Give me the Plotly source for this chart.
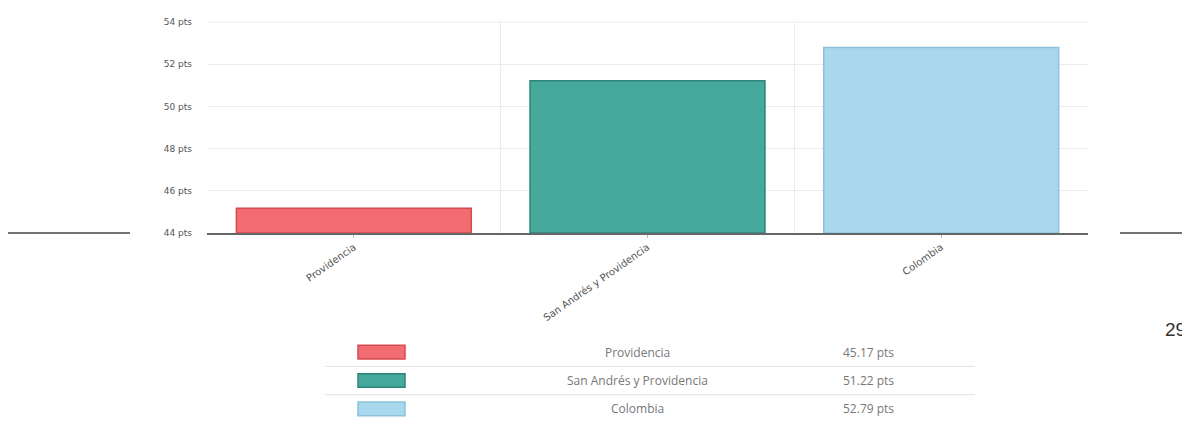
import plotly.graph_objects as go

categories = ["Providencia", "San Andrés y Providencia", "Colombia"]
values = [45.17, 51.22, 52.79]
value_labels = ["45.17 pts", "51.22 pts", "52.79 pts"]
fill_colors = ["#F36C72", "#45A99B", "#A9D8EE"]
line_colors = ["#D84A52", "#2E8579", "#8BC3DC"]
y_ticks = [44, 46, 48, 50, 52, 54]
y_ticktext = [f"{v} pts" for v in y_ticks]

# the page body has an 8px margin; compensate so the picture lands where intended
OFF = 8
W, H = 1190 - OFF, 430 - OFF
# plot-area pixel geometry in window coordinates
L, R, T, B = 207, 1088, 17, 233


def px(x):
    return (x - L) / (R - L)


def py(y):
    return (B - y) / (B - T)


fig = go.Figure()
fig.add_trace(go.Bar(
    x=list(range(len(categories))),
    y=[v - y_ticks[0] for v in values],
    base=y_ticks[0],
    marker=dict(color=fill_colors, line=dict(color=line_colors, width=1.5)),
    width=0.8,
    hoverinfo="skip",
    showlegend=False,
))

fig.update_layout(
    width=W, height=H,
    margin=dict(l=L - OFF, r=1190 - R, t=T - OFF, b=430 - B),
    paper_bgcolor="white",
    plot_bgcolor="white",
    font=dict(family="DejaVu Sans, sans-serif", color="#555"),
    xaxis=dict(
        range=[-0.5, len(categories) - 0.5],
        tickvals=list(range(len(categories))),
        ticktext=categories,
        tickangle=-35,
        tickfont=dict(size=10, color="#555", family="DejaVu Sans, sans-serif"),
        showgrid=False,
        showline=True, linecolor="#666", linewidth=1.5,
        ticks="outside", ticklen=3, tickcolor="#bbb",
        minor=dict(tick0=0.5, dtick=1, showgrid=True, gridcolor="#ebebeb", gridwidth=1),
        zeroline=False,
        fixedrange=True,
    ),
    yaxis=dict(
        range=[y_ticks[0], y_ticks[-1]],
        tickvals=y_ticks,
        ticktext=y_ticktext,
        tickfont=dict(size=9, color="#555", family="DejaVu Sans, sans-serif"),
        showgrid=True, gridcolor="#ebebeb", gridwidth=1,
        zeroline=False,
        ticklabelstandoff=14,
        fixedrange=True,
    ),
)

shapes = []
annotations = []

shapes.append(dict(type="line", xref="paper", yref="paper", x0=0, x1=1, y0=1, y1=1,
                   line=dict(color="#ebebeb", width=1)))

# page decoration lines left and right of the axis
shapes.append(dict(type="line", xref="paper", yref="paper", x0=px(OFF), x1=px(130), y0=0, y1=0,
                   line=dict(color="#444", width=1.5)))
shapes.append(dict(type="line", xref="paper", yref="paper", x0=px(1120), x1=px(1192), y0=0, y1=0,
                   line=dict(color="#444", width=1.5)))

# legend table beneath the chart
row_y = [355, 384, 413]
for i, (cat, lab) in enumerate(zip(categories, value_labels)):
    yc = row_y[i]
    shapes.append(dict(type="rect", xref="paper", yref="paper",
                       x0=px(358), x1=px(405), y0=py(yc - 7), y1=py(yc + 7),
                       fillcolor=fill_colors[i], line=dict(color=line_colors[i], width=1.5)))
    annotations.append(dict(xref="paper", yref="paper", x=px(637), y=py(yc), text=cat,
                            showarrow=False, xanchor="center", yanchor="middle",
                            font=dict(size=12, color="#777", family="Open Sans, sans-serif")))
    annotations.append(dict(xref="paper", yref="paper", x=px(868), y=py(yc), text=lab,
                            showarrow=False, xanchor="center", yanchor="middle",
                            font=dict(size=12, color="#777", family="Open Sans, sans-serif")))
    if i < len(categories) - 1:
        ys = (row_y[i] + row_y[i + 1]) / 2
        shapes.append(dict(type="line", xref="paper", yref="paper",
                           x0=px(325), x1=px(975), y0=py(ys), y1=py(ys),
                           line=dict(color="#e3e3e3", width=1)))

# page number
annotations.append(dict(xref="paper", yref="paper", x=px(1163), y=py(332), text="29",
                        showarrow=False, xanchor="left", yanchor="middle",
                        font=dict(size=19, color="#333", family="Liberation Sans, sans-serif")))

fig.update_layout(shapes=shapes, annotations=annotations)
fig.write_html("out.html")
